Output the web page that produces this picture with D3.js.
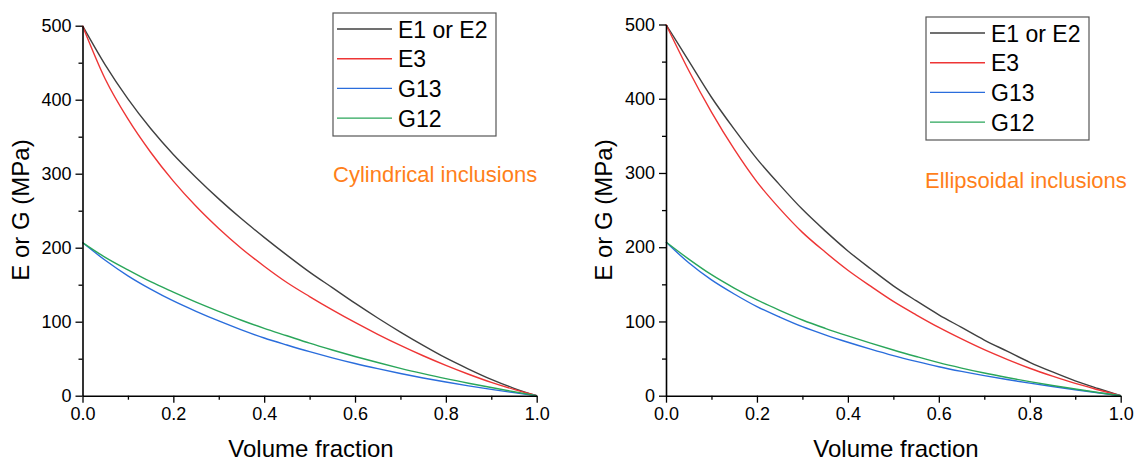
<!DOCTYPE html>
<html>
<head>
<meta charset="utf-8">
<script src="https://cdn.jsdelivr.net/npm/d3@7"></script>
<style>
  html, body { margin: 0; padding: 0; background: #ffffff; }
  svg { display: block; font-family: "Liberation Sans", Arial, sans-serif; }
</style>
</head>
<body>
<svg id="chart" width="1141" height="463"></svg>
<script>
// ---------- data ----------
const volumeFraction = [0, 0.05, 0.1, 0.15, 0.2, 0.25, 0.3, 0.35, 0.4, 0.45, 0.5,
                        0.55, 0.6, 0.65, 0.7, 0.75, 0.8, 0.85, 0.9, 0.95, 1.0];
const seriesNames = ["E1 or E2", "E3", "G13", "G12"];

// Cylindrical inclusions
const cylE12 = [500, 447, 401, 361, 326, 295, 266, 239, 214, 190, 167, 146, 125, 105, 86, 68, 51, 36, 22, 10, 0];
const cylE3  = [500, 428, 374, 329, 290, 256, 226, 199, 175, 153, 134, 116, 99, 83, 68, 54, 41, 29, 18, 8.5, 0];
const cylG13 = [207, 183, 162, 144, 128, 114, 101, 89, 78, 68.5, 59.5, 51.2, 43.5, 36.5, 30, 24, 18.5, 13.3, 8.5, 4.1, 0];
const cylG12 = [207, 187, 170, 154, 140, 126.5, 114, 102, 91, 81, 71, 61.8, 53, 44.8, 37, 29.8, 23, 16.8, 11, 5.4, 0];

// Ellipsoidal inclusions
const ellE12 = [500, 451, 402, 359, 319, 284, 251, 222, 195, 171, 148, 128, 109, 92, 75, 60, 45, 32, 20, 9.7, 0];
const ellE3  = [500, 438, 382, 332, 288, 252, 220, 193.5, 169, 147.5, 127, 109, 92, 76.5, 62, 49, 37, 26.3, 16.5, 8, 0];
const ellG13 = [207, 179, 156, 137, 120, 106, 93, 82, 72, 62.7, 54, 46.2, 39, 32.7, 27, 21.8, 17, 12.4, 8, 3.9, 0];
const ellG12 = [207, 184, 163, 145, 129, 115, 102, 90.8, 80.5, 70.8, 61.5, 52.8, 44.5, 37.2, 30.5, 24.5, 19, 13.8, 9, 4.4, 0];

const panelTitles = ["Cylindrical inclusions", "Ellipsoidal inclusions"];
const xTickValues = [0, 0.2, 0.4, 0.6, 0.8, 1.0];
const xMinorTicks = [0.1, 0.3, 0.5, 0.7, 0.9];
const yTickValues = [0, 100, 200, 300, 400, 500];
const yMinorTicks = [50, 150, 250, 350, 450];
const xTitle = "Volume fraction";
const yTitle = "E or G (MPa)";

// ---------- style ----------
const colors = ["#404040", "#ee3535", "#2a6ddc", "#2aa65a"];
const orange = "#ff7f1a";
const font = "'Liberation Sans', Arial, sans-serif";

const panels = [
  { x0: 82.5, x1: 536.7, yTop: 25.7, yBot: 395.7, series: [cylE12, cylE3, cylG13, cylG12],
    legend: { x: 333, y: 13, w: 163, h: 123 }, note: { x: 333, y: 182 }, yTitleX: 21, xTitleX: 311 },
  { x0: 666, x1: 1120.7, yTop: 24.5, yBot: 395.7, series: [ellE12, ellE3, ellG13, ellG12],
    legend: { x: 926, y: 17, w: 163, h: 123 }, note: { x: 925, y: 188 }, yTitleX: 604, xTitleX: 896 }
];

const svg = d3.select("#chart");

panels.forEach((p, pi) => {
  const x = d3.scaleLinear().domain([0, 1]).range([p.x0, p.x1]);
  const y = d3.scaleLinear().domain([0, 500]).range([p.yBot, p.yTop]);
  const g = svg.append("g");

  // curves
  const line = d3.line()
    .x((d, i) => x(volumeFraction[i]))
    .y(d => y(d))
    .curve(d3.curveMonotoneX);
  p.series.forEach((s, si) => {
    g.append("path").datum(s)
      .attr("d", line)
      .attr("fill", "none")
      .attr("stroke", colors[si])
      .attr("stroke-width", 1.4);
  });

  // x axis
  g.append("g").attr("transform", `translate(0,${p.yBot})`)
    .call(d3.axisBottom(x).tickValues(xTickValues).tickFormat(d3.format(".1f"))
      .tickSize(7).tickPadding(5).tickSizeOuter(0));
  g.append("g").attr("transform", `translate(0,${p.yBot})`)
    .call(d3.axisBottom(x).tickValues(xMinorTicks).tickFormat("").tickSize(4).tickSizeOuter(0))
    .call(a => a.select(".domain").remove());

  // y axis
  g.append("g").attr("transform", `translate(${p.x0},0)`)
    .call(d3.axisLeft(y).tickValues(yTickValues).tickSize(7).tickPadding(4).tickSizeOuter(0));
  g.append("g").attr("transform", `translate(${p.x0},0)`)
    .call(d3.axisLeft(y).tickValues(yMinorTicks).tickFormat("").tickSize(4).tickSizeOuter(0))
    .call(a => a.select(".domain").remove());

  g.selectAll(".domain").attr("stroke", "#000").attr("stroke-width", 1.6);
  g.selectAll(".tick line").attr("stroke", "#000").attr("stroke-width", 1.3);
  g.selectAll(".tick text").attr("fill", "#000").attr("font-size", "18px").attr("font-family", font);

  // axis titles
  g.append("text")
    .attr("x", p.xTitleX).attr("y", 457)
    .attr("text-anchor", "middle")
    .attr("font-size", "24px").attr("font-family", font)
    .text(xTitle);
  g.append("text")
    .attr("transform", `translate(${p.yTitleX + 8},210) rotate(-90)`)
    .attr("text-anchor", "middle")
    .attr("font-size", "24px").attr("font-family", font)
    .text(yTitle);

  // legend
  const L = p.legend;
  const lg = g.append("g");
  lg.append("rect").attr("x", L.x).attr("y", L.y).attr("width", L.w).attr("height", L.h)
    .attr("fill", "#fff").attr("stroke", "#555").attr("stroke-width", 1.2);
  seriesNames.forEach((name, i) => {
    const ry = L.y + 16 + i * 29.7;
    lg.append("line").attr("x1", L.x + 4).attr("x2", L.x + 59)
      .attr("y1", ry).attr("y2", ry)
      .attr("stroke", colors[i]).attr("stroke-width", 1.4);
    lg.append("text").attr("x", L.x + 65).attr("y", ry + 8.5)
      .attr("font-size", "23px").attr("font-family", font).attr("fill", "#000")
      .text(name);
  });

  // annotation
  g.append("text").attr("x", p.note.x).attr("y", p.note.y)
    .attr("font-size", "22px").attr("font-family", font).attr("fill", orange)
    .text(panelTitles[pi]);
});
</script>
</body>
</html>
